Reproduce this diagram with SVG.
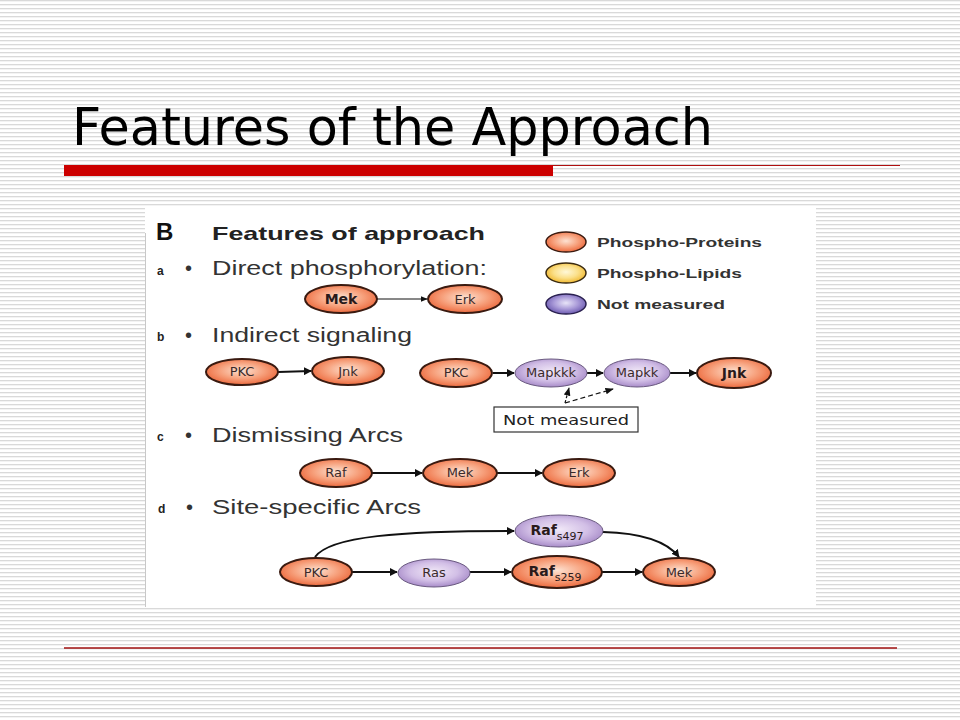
<svg xmlns="http://www.w3.org/2000/svg" width="960" height="720" viewBox="0 0 960 720">
<defs>
<pattern id="stripes" x="0" y="0" width="8" height="4" patternUnits="userSpaceOnUse">
<rect x="0" y="0" width="8" height="4" fill="#ffffff"/>
<rect x="0" y="0" width="8" height="1.3" fill="#d9d9d9"/>
</pattern>
<radialGradient id="gOr" cx="50%" cy="45%" r="55%">
<stop offset="0" stop-color="#fde2d2"/>
<stop offset="0.55" stop-color="#f7a27e"/>
<stop offset="1" stop-color="#ec6a3e"/>
</radialGradient>
<radialGradient id="gPu" cx="50%" cy="45%" r="55%">
<stop offset="0" stop-color="#f1e8f7"/>
<stop offset="0.6" stop-color="#d2bfe6"/>
<stop offset="1" stop-color="#a88cc9"/>
</radialGradient>
<radialGradient id="gPuL" cx="50%" cy="45%" r="55%">
<stop offset="0" stop-color="#e8e4f8"/>
<stop offset="0.55" stop-color="#a99ad8"/>
<stop offset="1" stop-color="#6c5ab0"/>
</radialGradient>
<radialGradient id="gYe" cx="50%" cy="45%" r="55%">
<stop offset="0" stop-color="#fff8d8"/>
<stop offset="0.55" stop-color="#fbe08a"/>
<stop offset="1" stop-color="#f0b830"/>
</radialGradient>
<marker id="ah" viewBox="0 0 10 10" refX="9" refY="5" markerWidth="4" markerHeight="4" orient="auto" markerUnits="strokeWidth">
<path d="M0,0 L10,5 L0,10 z" fill="#111"/>
</marker>
<marker id="ahs" viewBox="0 0 10 10" refX="9" refY="5" markerWidth="7" markerHeight="7" orient="auto" markerUnits="strokeWidth">
<path d="M0,1 L10,5 L0,9 z" fill="#111"/>
</marker>
</defs>
<style>
.title{font-family:"DejaVu Sans",Verdana,sans-serif;font-size:52px;fill:#000}
.h{font-family:"Liberation Sans",Arial,sans-serif;font-size:20px;fill:#333}
.hb{font-family:"Liberation Sans",Arial,sans-serif;font-size:19px;font-weight:bold;fill:#222}
.lbl{font-family:"Liberation Sans",Arial,sans-serif;font-size:12px;font-weight:bold;fill:#222}
.leg{font-family:"Liberation Sans",Arial,sans-serif;font-size:13px;font-weight:bold;fill:#333}
.nt{font-family:"DejaVu Sans",sans-serif;font-size:13px;fill:#3a2a2a;text-anchor:middle}
.ntb{font-family:"DejaVu Sans",sans-serif;font-size:14px;font-weight:bold;fill:#2a1a1a;text-anchor:middle}
.or{fill:url(#gOr);stroke:#3a1a10;stroke-width:2}
.pu{fill:url(#gPu);stroke:#6a5a80;stroke-width:1}
.arr{stroke:#111;stroke-width:2;fill:none;marker-end:url(#ah)}
.arrt{stroke:#111;stroke-width:1;fill:none;marker-end:url(#ahs)}
</style>
<rect x="0" y="0" width="960" height="720" fill="url(#stripes)"/>
<text class="title" x="72" y="145" textLength="641" lengthAdjust="spacingAndGlyphs">Features of the Approach</text>
<rect x="64" y="165" width="489" height="11" fill="#cc0000"/>
<line x1="553" y1="165.5" x2="900" y2="165.5" stroke="#b01010" stroke-width="1"/>
<line x1="64" y1="648" x2="897" y2="648" stroke="#a01010" stroke-width="1.5"/>
<rect x="145" y="207" width="671" height="400" fill="#ffffff"/>
<line x1="145.5" y1="233" x2="145.5" y2="607" stroke="#c8c8c8" stroke-width="1"/>
<g id="headings">
<text x="156" y="240" font-family="Liberation Sans, Arial, sans-serif" font-size="24" font-weight="bold" fill="#111">B</text>
<text class="hb" x="212" y="240" textLength="273" lengthAdjust="spacingAndGlyphs">Features of approach</text>
<text class="lbl" x="157" y="275">a</text><text class="h" x="185" y="275">•</text>
<text class="h" x="212" y="275" textLength="275" lengthAdjust="spacingAndGlyphs">Direct phosphorylation:</text>
<text class="lbl" x="157" y="341">b</text><text class="h" x="185" y="342">•</text>
<text class="h" x="212" y="342" textLength="200" lengthAdjust="spacingAndGlyphs">Indirect signaling</text>
<text class="lbl" x="157" y="441">c</text><text class="h" x="185" y="442">•</text>
<text class="h" x="212" y="442" textLength="191" lengthAdjust="spacingAndGlyphs">Dismissing Arcs</text>
<text class="lbl" x="158" y="513">d</text><text class="h" x="186" y="514">•</text>
<text class="h" x="212" y="514" textLength="209" lengthAdjust="spacingAndGlyphs">Site-specific Arcs</text>
</g>
<g id="legend">
<ellipse cx="566" cy="242" rx="20" ry="10" fill="url(#gOr)" stroke="#3a1a10" stroke-width="1.5"/>
<text class="leg" x="597" y="247" textLength="165" lengthAdjust="spacingAndGlyphs">Phospho-Proteins</text>
<ellipse cx="566" cy="273" rx="20" ry="10" fill="url(#gYe)" stroke="#3a2a10" stroke-width="1.5"/>
<text class="leg" x="597" y="278" textLength="145" lengthAdjust="spacingAndGlyphs">Phospho-Lipids</text>
<ellipse cx="566" cy="304" rx="20" ry="10" fill="url(#gPuL)" stroke="#2a2050" stroke-width="1.5"/>
<text class="leg" x="597" y="309" textLength="128" lengthAdjust="spacingAndGlyphs">Not measured</text>
</g>
<g id="connectors">
<line class="arrt" x1="377" y1="299" x2="427" y2="299"/>
<line class="arr" x1="278" y1="372" x2="311" y2="371"/>
<line class="arr" x1="493" y1="373" x2="514" y2="373"/>
<line class="arr" x1="587" y1="373" x2="603" y2="373"/>
<line class="arr" x1="670" y1="373" x2="696" y2="373"/>
<line x1="565" y1="403" x2="569" y2="388" stroke="#111" stroke-width="1.2" stroke-dasharray="3,2" marker-end="url(#ahs)"/>
<line x1="565" y1="403" x2="613" y2="389" stroke="#111" stroke-width="1.2" stroke-dasharray="5,3" marker-end="url(#ahs)"/>
<line class="arr" x1="372" y1="473" x2="422" y2="473"/>
<line class="arr" x1="497" y1="473" x2="542" y2="473"/>
<path class="arr" d="M315,557 C330,536 400,531 514,531"/>
<path class="arr" d="M603,532 C640,533 666,540 679,557"/>
<line class="arr" x1="352" y1="572" x2="397" y2="572"/>
<line class="arr" x1="470" y1="572" x2="511" y2="572"/>
<line class="arr" x1="602" y1="572" x2="642" y2="572"/>
</g>
<g id="n-mek-a"><ellipse class="or" cx="341" cy="299" rx="36" ry="14"/><text class="ntb" x="341" y="304">Mek</text></g>
<g id="n-erk-a"><ellipse class="or" cx="465" cy="299" rx="37" ry="14"/><text class="nt" x="465" y="304">Erk</text></g>
<g id="n-pkc-b1"><ellipse class="or" cx="242" cy="372" rx="36" ry="13"/><text class="nt" x="242" y="376" font-size="11">PKC</text></g>
<g id="n-jnk-b1"><ellipse class="or" cx="348" cy="371" rx="36" ry="14"/><text class="nt" x="348" y="376">Jnk</text></g>
<g id="n-pkc-b2"><ellipse class="or" cx="456" cy="373" rx="36" ry="14"/><text class="nt" x="456" y="377" font-size="11">PKC</text></g>
<g id="n-mapkkk"><ellipse class="pu" cx="551" cy="373" rx="36" ry="14"/><text class="nt" x="551" y="377" font-size="11" fill="#5a4a6a">Mapkkk</text></g>
<g id="n-mapkk"><ellipse class="pu" cx="637" cy="373" rx="33" ry="14"/><text class="nt" x="637" y="377" font-size="11" fill="#5a4a6a">Mapkk</text></g>
<g id="n-jnk-b2"><ellipse class="or" cx="734" cy="373" rx="37" ry="15" stroke-width="2.5"/><text class="ntb" x="734" y="378">Jnk</text></g>
<g id="n-notmeasured"><rect x="494" y="407" width="144" height="25" fill="#fff" stroke="#333" stroke-width="1.2"/><text x="566" y="425" text-anchor="middle" font-family="DejaVu Sans, sans-serif" font-size="14" fill="#222" textLength="126" lengthAdjust="spacingAndGlyphs">Not measured</text></g>
<g id="n-raf-c"><ellipse class="or" cx="336" cy="473" rx="36" ry="14"/><text class="nt" x="336" y="477">Raf</text></g>
<g id="n-mek-c"><ellipse class="or" cx="460" cy="473" rx="37" ry="14"/><text class="nt" x="460" y="477">Mek</text></g>
<g id="n-erk-c"><ellipse class="or" cx="579" cy="473" rx="36" ry="14"/><text class="nt" x="579" y="477">Erk</text></g>
<g id="n-pkc-d"><ellipse class="or" cx="316" cy="572" rx="36" ry="14"/><text class="nt" x="316" y="577">PKC</text></g>
<g id="n-ras"><ellipse class="pu" cx="434" cy="573" rx="36" ry="14"/><text class="nt" x="434" y="577">Ras</text></g>
<g id="n-raf497"><ellipse class="pu" cx="559" cy="531" rx="44" ry="16"/><text class="ntb" x="557" y="535">Raf<tspan font-size="11" font-weight="normal" dy="5">s497</tspan></text></g>
<g id="n-raf259"><ellipse class="or" cx="557" cy="572" rx="45" ry="16"/><text class="ntb" x="555" y="576">Raf<tspan font-size="11" font-weight="normal" dy="5">s259</tspan></text></g>
<g id="n-mek-d"><ellipse class="or" cx="679" cy="572" rx="36" ry="14"/><text class="nt" x="679" y="577">Mek</text></g>
</svg>
